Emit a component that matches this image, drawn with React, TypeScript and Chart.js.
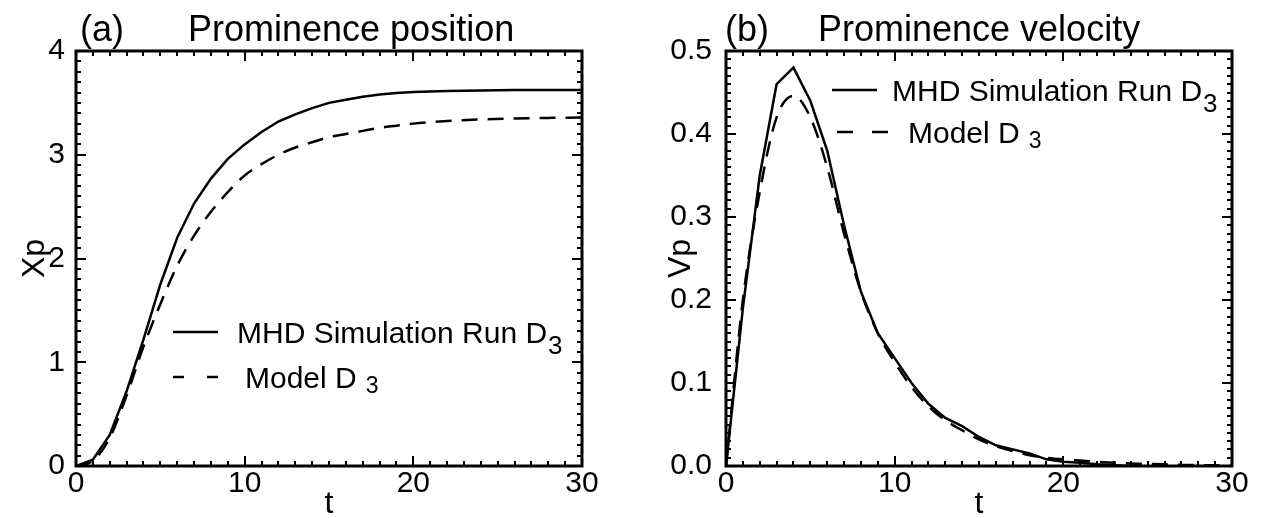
import React, { useEffect, useRef } from "react";
import { Chart, registerables } from "chart.js";
Chart.register(...registerables);

// ---------- data ----------
const timePos = [0, 1, 2, 3, 4, 5, 6, 7, 8, 9, 10, 11, 12, 13, 14, 15, 16, 17, 18, 19, 20, 22, 24, 26, 28, 30];
const posMHD = [0, 0.06, 0.3, 0.72, 1.22, 1.75, 2.2, 2.53, 2.77, 2.96, 3.1, 3.22, 3.32, 3.39, 3.45, 3.5, 3.53, 3.56, 3.58, 3.595, 3.605, 3.615, 3.62, 3.625, 3.625, 3.625];
const posModel = [0, 0.05, 0.27, 0.68, 1.15, 1.56, 1.93, 2.22, 2.45, 2.64, 2.8, 2.91, 3.0, 3.07, 3.12, 3.17, 3.2, 3.23, 3.26, 3.28, 3.3, 3.325, 3.34, 3.35, 3.355, 3.36];

const timeVel = [0, 1, 2, 3, 4, 5, 6, 7, 8, 9, 10, 11, 12, 13, 14, 15, 16, 17, 18, 19, 20, 21, 22, 23, 24, 25, 26, 27, 28, 29, 30];
const velMHD = [0, 0.19, 0.35, 0.46, 0.48, 0.44, 0.38, 0.29, 0.21, 0.16, 0.13, 0.1, 0.075, 0.058, 0.048, 0.035, 0.025, 0.02, 0.015, 0.008, 0.005, 0.004, 0.002, 0.001, 0.0, -0.002, -0.001, 0.0, -0.001, -0.002, 0.0];
const velModel = [0, 0.2, 0.33, 0.42, 0.446, 0.42, 0.36, 0.28, 0.21, 0.16, 0.125, 0.095, 0.072, 0.055, 0.043, 0.032, 0.024, 0.018, 0.013, 0.01, 0.008, 0.0065, 0.005, 0.004, 0.003, 0.0025, 0.002, 0.0015, 0.001, 0.0008, 0.0005];

const xTicks = [0, 10, 20, 30];
const yTicksPos = [0, 1, 2, 3, 4];
const yTicksVel = [0, 0.1, 0.2, 0.3, 0.4, 0.5];

const FONT = "'Liberation Sans', Arial, Helvetica, sans-serif";

type Panel = {
  letter: string;
  title: string;
  titleX: number;
  letterX: number;
  yTitle: string;
  yTitleX: number;
  t: number[];
  mhd: number[];
  model: number[];
  yTicks: number[];
  yMin: number;
  yMax: number;
  yMinorStep: number;
  yDecimals: number;
  yWidth: number;
  yPad: number;
  rightPad: number;
  legend: { lineX0: number; lineX1: number; dashes: number[][]; textX1: number; textX2: number; y1: number; y2: number };
};

const panels: Panel[] = [
  {
    letter: "(a)",
    title: "Prominence position",
    titleX: 188,
    letterX: 80,
    yTitle: "Xp",
    yTitleX: 35,
    t: timePos,
    mhd: posMHD,
    model: posModel,
    yTicks: yTicksPos,
    yMin: 0,
    yMax: 4,
    yMinorStep: 0.1,
    yDecimals: 0,
    yWidth: 76,
    yPad: 11,
    rightPad: 53,
    legend: { lineX0: 173, lineX1: 218, dashes: [[173, 184], [207, 218]], textX1: 237, textX2: 245, y1: 332, y2: 377 },
  },
  {
    letter: "(b)",
    title: "Prominence velocity",
    titleX: 818 - 635,
    letterX: 725 - 635,
    yTitle: "Vp",
    yTitleX: 681 - 635,
    t: timeVel,
    mhd: velMHD,
    model: velModel,
    yTicks: yTicksVel,
    yMin: 0,
    yMax: 0.5,
    yMinorStep: 0.01,
    yDecimals: 1,
    yWidth: 91,
    yPad: 14,
    rightPad: 38,
    legend: { lineX0: 832 - 635, lineX1: 877 - 635, dashes: [[837 - 635, 853 - 635], [872 - 635, 888 - 635]], textX1: 892 - 635, textX2: 908 - 635, y1: 90, y2: 132 },
  },
];

function makeDecor(p: Panel) {
  return {
    id: "decor" + p.letter,
    afterDraw(chart: any) {
      const ctx = chart.ctx as CanvasRenderingContext2D;
      const a = chart.chartArea;
      const xs = chart.scales.x;
      const ys = chart.scales.y;
      ctx.save();
      ctx.strokeStyle = "#000";
      ctx.fillStyle = "#000";
      // frame
      ctx.lineWidth = 3;
      ctx.strokeRect(a.left, a.top, a.right - a.left, a.bottom - a.top);
      // x ticks
      ctx.lineWidth = 2;
      ctx.beginPath();
      for (let v = 0; v <= 30 + 1e-9; v += 1) {
        const major = Math.abs(v % 10) < 1e-6;
        const len = major ? 10 : 5;
        const px = Math.round(xs.getPixelForValue(v));
        ctx.moveTo(px, a.bottom);
        ctx.lineTo(px, a.bottom - len);
        ctx.moveTo(px, a.top);
        ctx.lineTo(px, a.top + len);
      }
      // y ticks
      const n = Math.round((p.yMax - p.yMin) / p.yMinorStep);
      for (let i = 0; i <= n; i++) {
        const v = p.yMin + i * p.yMinorStep;
        const major = i % 10 === 0;
        const len = major ? 10 : 5;
        const py = Math.round(ys.getPixelForValue(v));
        ctx.moveTo(a.left, py);
        ctx.lineTo(a.left + len, py);
        ctx.moveTo(a.right, py);
        ctx.lineTo(a.right - len, py);
      }
      ctx.stroke();

      // titles
      ctx.textBaseline = "alphabetic";
      ctx.textAlign = "left";
      ctx.font = `36px ${FONT}`;
      ctx.fillText(p.letter, p.letterX, 41);
      ctx.fillText(p.title, p.titleX, 41);

      // axis titles
      ctx.font = `32px ${FONT}`;
      ctx.textAlign = "center";
      ctx.fillText("t", (a.left + a.right) / 2, 513);
      ctx.save();
      ctx.translate(p.yTitleX, (a.top + a.bottom) / 2);
      ctx.rotate(-Math.PI / 2);
      ctx.textBaseline = "middle";
      ctx.fillText(p.yTitle, 0, 0);
      ctx.restore();

      // legend
      const L = p.legend;
      ctx.lineWidth = 2.5;
      ctx.setLineDash([]);
      ctx.beginPath();
      ctx.moveTo(L.lineX0, L.y1);
      ctx.lineTo(L.lineX1, L.y1);
      for (const d of L.dashes) {
        ctx.moveTo(d[0], L.y2);
        ctx.lineTo(d[1], L.y2);
      }
      ctx.stroke();
      ctx.textAlign = "left";
      ctx.textBaseline = "alphabetic";
      ctx.font = `30px ${FONT}`;
      const s1 = chart.data.datasets[0].label as string;
      ctx.fillText(s1, L.textX1, L.y1 + 11);
      let w = ctx.measureText(s1).width;
      ctx.font = `26px ${FONT}`;
      ctx.fillText("3", L.textX1 + w + 1, L.y1 + 22);
      ctx.font = `30px ${FONT}`;
      const s2 = chart.data.datasets[1].label as string;
      ctx.fillText(s2, L.textX2, L.y2 + 11);
      w = ctx.measureText(s2).width;
      ctx.font = `23px ${FONT}`;
      ctx.fillText("3", L.textX2 + w + 9, L.y2 + 16);
      ctx.restore();
    },
  };
}

function makeConfig(p: Panel): any {
  return {
    type: "line",
    data: {
      datasets: [
        {
          label: "MHD Simulation Run D",
          data: p.t.map((x, i) => ({ x, y: p.mhd[i] })),
          borderColor: "#000",
          borderWidth: 2.5,
          pointRadius: 0,
          fill: false,
          tension: 0,
        },
        {
          label: "Model D",
          data: p.t.map((x, i) => ({ x, y: p.model[i] })),
          borderColor: "#000",
          borderWidth: 2.5,
          borderDash: [16, 10],
          pointRadius: 0,
          fill: false,
          cubicInterpolationMode: "monotone",
        },
      ],
    },
    options: {
      animation: false,
      responsive: false,
      devicePixelRatio: 1,
      layout: { padding: { top: 51, right: p.rightPad, left: 0, bottom: 0 } },
      plugins: { legend: { display: false }, tooltip: { enabled: false }, title: { display: false } },
      scales: {
        x: {
          type: "linear",
          min: 0,
          max: 30,
          afterFit: (s: any) => {
            s.height = 52;
          },
          afterBuildTicks: (s: any) => {
            s.ticks = xTicks.map((v) => ({ value: v }));
          },
          ticks: {
            font: { family: FONT, size: 30 },
            color: "#000",
            padding: 0,
            maxRotation: 0,
            autoSkip: false,
            callback: (v: number) => String(v),
          },
          grid: { drawOnChartArea: false, drawTicks: false },
          border: { display: false },
        },
        y: {
          type: "linear",
          min: p.yMin,
          max: p.yMax,
          afterFit: (s: any) => {
            s.width = p.yWidth;
          },
          afterBuildTicks: (s: any) => {
            s.ticks = p.yTicks.map((v) => ({ value: v }));
          },
          ticks: {
            font: { family: FONT, size: 30 },
            color: "#000",
            padding: p.yPad,
            autoSkip: false,
            callback: (v: number) => Number(v).toFixed(p.yDecimals),
          },
          grid: { drawOnChartArea: false, drawTicks: false },
          border: { display: false },
        },
      },
    },
    plugins: [makeDecor(p)],
  };
}

function PanelChart({ p, left }: { p: Panel; left: number }) {
  const ref = useRef<HTMLCanvasElement>(null);
  useEffect(() => {
    if (!ref.current) return;
    const chart = new Chart(ref.current, makeConfig(p));
    return () => chart.destroy();
  }, [p]);
  return (
    <canvas
      ref={ref}
      width={635}
      height={518}
      style={{ position: "absolute", left, top: 0, width: 635, height: 518 }}
    />
  );
}

export default function App() {
  return (
    <div style={{ position: "fixed", left: 0, top: 0, width: 1270, height: 518, background: "#fff" }}>
      <PanelChart p={panels[0]} left={0} />
      <PanelChart p={panels[1]} left={635} />
    </div>
  );
}
